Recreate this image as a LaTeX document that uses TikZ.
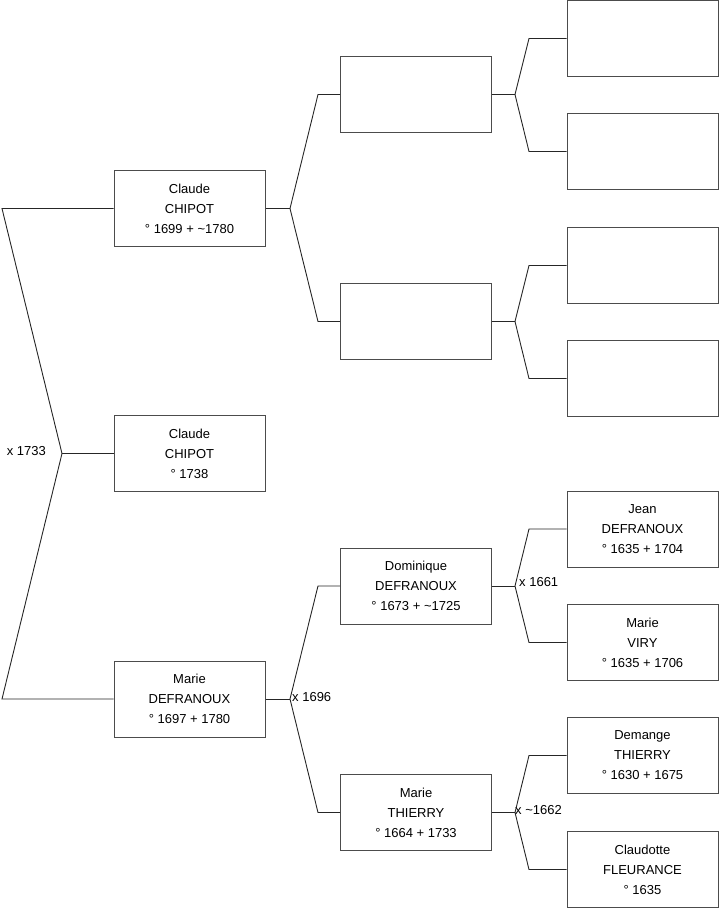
\documentclass[tikz,border=0pt]{standalone}
\usepackage{fontspec}
\setmainfont{Liberation Sans}
\usetikzlibrary{positioning}

\begin{document}
\begin{tikzpicture}[x=1pt, y=-1pt,
    person/.style={rectangle, draw=black!70, line width=1pt, minimum width=151pt, minimum height=76pt, inner sep=0pt, align=center, font=\fontsize{13}{20}\selectfont},
    link/.style={draw=black!85, line width=0.9pt},
    union/.style={font=\fontsize{13}{14}\selectfont, inner sep=0pt}
]
\useasboundingbox (0,0) rectangle (719,908);

% Generation 1
\node[person] (claude) at (189.5,208.5) {Claude\\CHIPOT\\° 1699 + \textasciitilde1780};
\node[person] (child) at (189.5,453.5) {Claude\\CHIPOT\\° 1738};
\node[person] (marie) at (189.5,699) {Marie\\DEFRANOUX\\° 1697 + 1780};

% Generation 2
\node[person] (cfather) at (416,94.5) {};
\node[person] (cmother) at (416,321.5) {};
\node[person] (dominique) at (416,586) {Dominique\\DEFRANOUX\\° 1673 + \textasciitilde1725};
\node[person] (mthierry) at (416,812.5) {Marie\\THIERRY\\° 1664 + 1733};

% Generation 3
\node[person] (ff) at (642.5,38.5) {};
\node[person] (fm) at (642.5,151.5) {};
\node[person] (mf) at (642.5,265.5) {};
\node[person] (mm) at (642.5,378.5) {};
\node[person] (jean) at (642.5,529) {Jean\\DEFRANOUX\\° 1635 + 1704};
\node[person] (mviry) at (642.5,642.5) {Marie\\VIRY\\° 1635 + 1706};
\node[person] (demange) at (642.5,755.5) {Demange\\THIERRY\\° 1630 + 1675};
\node[person] (claudotte) at (642.5,869.5) {Claudotte\\FLEURANCE\\° 1635};

% Junctions
\coordinate (j0) at (62,453.5);
\coordinate (j1) at (290,208.5);
\coordinate (j2) at (290,699);
\coordinate (j3) at (515,94.5);
\coordinate (j4) at (515,321.5);
\coordinate (j5) at (515,586);
\coordinate (j6) at (515,812.5);

% Couple of generation 1
\draw[link] (claude.west) -- (2,208.5) -- (j0) -- (2,699) -- (marie.west);
\draw[link] (j0) -- (child.west);
\node[union, anchor=east] (u0) at (46,451.5) {x 1733};

% Parents
\draw[link] (claude.east) -- (j1);
\draw[link] (cfather.west) -- (318,94.5) -- (j1) -- (318,321.5) -- (cmother.west);
\draw[link] (marie.east) -- (j2);
\draw[link] (dominique.west) -- (318,586) -- (j2) -- (318,812.5) -- (mthierry.west);
\node[union, anchor=west] (u1) at (292,697) {x 1696};

% Grandparents
\draw[link] (cfather.east) -- (j3);
\draw[link] (ff.west) -- (529,38.5) -- (j3) -- (529,151.5) -- (fm.west);
\draw[link] (cmother.east) -- (j4);
\draw[link] (mf.west) -- (529,265.5) -- (j4) -- (529,378.5) -- (mm.west);
\draw[link] (dominique.east) -- (j5);
\draw[link] (jean.west) -- (529,529) -- (j5) -- (529,642.5) -- (mviry.west);
\node[union, anchor=west] (u2) at (519,582) {x 1661};
\draw[link] (mthierry.east) -- (j6);
\draw[link] (demange.west) -- (529,755.5) -- (j6) -- (529,869.5) -- (claudotte.west);
\node[union, anchor=west] (u3) at (515,810) {x \textasciitilde1662};

\end{tikzpicture}
\end{document}
